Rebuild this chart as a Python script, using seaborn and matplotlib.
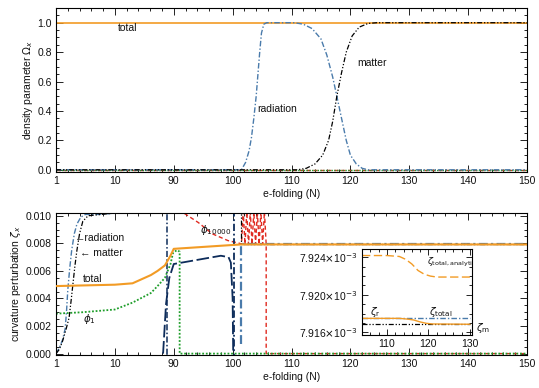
import numpy as np
import matplotlib
matplotlib.use('Agg')
import matplotlib.pyplot as plt
import seaborn as sns
from matplotlib.ticker import FixedLocator, FixedFormatter, MultipleLocator, FormatStrFormatter

sns.set_style('ticks')
plt.rcParams['font.family'] = ['Liberation Sans', 'DejaVu Sans']
plt.rcParams['mathtext.fontset'] = 'dejavusans'

# ---------------- data ----------------
x_ticks = [1, 10, 90, 100, 110, 120, 130, 140, 150]
x_ticklabels = ['1', '10', '90', '100', '110', '120', '130', '140', '150']

# top panel: density parameters
N_tot_top = [1, 150]
om_total = [1.0, 1.0]
N_rad_top = [1, 101.5, 102.2, 102.8, 103.2, 103.6, 104.0, 104.3, 104.6, 104.9, 105.3, 105.8,
             110.5, 112, 113.5, 115, 116, 117, 117.7, 118.5, 119.3, 120, 121, 122, 123, 150]
om_rad = [0, 0, 0.05, 0.13, 0.22, 0.35, 0.50, 0.65, 0.80, 0.93, 0.99, 1.0,
          1.0, 0.99, 0.96, 0.89, 0.78, 0.63, 0.50, 0.35, 0.20, 0.10, 0.04, 0.01, 0.0, 0.0]
N_mat_top = [1, 111, 112.5, 114, 115.3, 116.3, 117, 117.7, 118.5, 119.3, 120.3, 121.5, 123, 124.5, 150]
om_mat = [0, 0, 0.01, 0.04, 0.10, 0.20, 0.33, 0.50, 0.66, 0.80, 0.91, 0.97, 0.995, 1.0, 1.0]
N_fld_top = [1, 150]
om_fld = [0.0, 0.0]

# bottom panel: curvature perturbations
N_zr_early = [1, 1.5, 2.0, 2.4, 2.6, 2.8, 3.1, 3.4, 3.8, 4.2, 4.8, 5.5, 8, 10, 20]
zr_early = [0, 0.0004, 0.0010, 0.0018, 0.0030, 0.0046, 0.0062, 0.0075, 0.0087, 0.0094,
            0.0099, 0.0101, 0.0101, 0.0102, 0.0106]
N_zr_late = [101.5, 101.5, 150]
zr_late = [0.0007, 0.0079175, 0.0079175]

N_zm_early = [1, 1.5, 2.0, 2.5, 3.0, 3.3, 3.6, 3.9, 4.2, 4.6, 5.1, 5.9, 8, 10, 20]
zm_early = [0, 0.0003, 0.0009, 0.0017, 0.0026, 0.0038, 0.0051, 0.0064, 0.0075, 0.0087,
            0.0096, 0.0100, 0.0101, 0.0102, 0.0106]
N_zm_late = [101.4, 101.4, 150]
zm_late = [0.0106, 0.0079168, 0.0079168]

N_ztot = [1, 10, 34, 59, 68, 78, 85.5, 90, 100, 101.5, 150]
ztot = [0.0049, 0.0050, 0.0051, 0.0057, 0.0060, 0.0064, 0.0071, 0.0076, 0.00788, 0.00792, 0.0079175]

N_phi1 = [1, 5, 10, 34, 59, 68, 78, 85.6, 89, 90.5, 91, 91, 150]
phi1 = [0.0029, 0.0030, 0.0032, 0.0037, 0.0044, 0.0049, 0.0055, 0.0065, 0.0073, 0.0075, 0.0074, 0.0, 0.0]

N_phi10000 = [90.5, 91.7, 94.2, 96.5, 99.2, 101.2, 101.5, 101.8, 102.1, 102.4, 102.7, 103.0,
              103.3, 103.6, 103.9, 104.2, 104.5, 104.8, 105.1, 105.4, 105.7, 105.7, 150]
phi10000 = [0.0110, 0.0102, 0.0095, 0.0087, 0.0082, 0.0080, 0.00792, 0.0103, 0.00792, 0.0103,
            0.00792, 0.0103, 0.00792, 0.0103, 0.00792, 0.0103, 0.00792, 0.0103, 0.00792, 0.0103,
            0.00792, 0.0, 0.0]

N_zphi = [75.5, 79.5, 84, 90, 94, 98, 99.3, 99.7, 100, 100.1]
zphi = [0.0, 0.0036, 0.0055, 0.0065, 0.0068, 0.0071, 0.0070, 0.0066, 0.0040, 0.0]

N_div1 = [81, 81]
div1 = [0.0110, -0.0005]
N_div2 = [100.2, 100.2]
div2 = [-0.0005, 0.0110]

# inset
N_in = [104, 110, 113, 114.5, 116, 117.5, 119, 120.5, 122, 130]
in_analytic = [7.9242e-3, 7.9242e-3, 7.9241e-3, 7.9238e-3, 7.9233e-3, 7.9226e-3, 7.9222e-3,
               7.9220e-3, 7.9219e-3, 7.9219e-3]
N_in_tot = [104, 113, 115, 116.5, 118, 119.5, 121, 130]
in_total = [7.91748e-3, 7.91748e-3, 7.9174e-3, 7.9173e-3, 7.9171e-3, 7.91695e-3, 7.91688e-3, 7.91685e-3]
N_in_flat = [104, 130]
in_zr = [7.91749e-3, 7.91749e-3]
in_zm = [7.91685e-3, 7.91685e-3]

# ---------------- styles ----------------
ORANGE = '#f29b25'
STEEL = '#4a7bab'
NAVY = '#0d2c5a'
RED = '#e02a20'
GREEN = '#1e9e2a'
DASHDOT = (0, (4, 1.5, 1, 1.5))
DASHDOT3 = (0, (4, 1.5, 1, 1.5, 1, 1.5))
LONGDASH = (0, (7, 2))
DOT = (0, (1, 1))
DASH = (0, (3, 2))

def line(ax, x, y, color, ls='-', lw=1.0, z=2):
    sns.lineplot(x=np.asarray(x, float), y=np.asarray(y, float), ax=ax, color=color,
                 linestyle=ls, linewidth=lw, estimator=None, sort=False, legend=False, zorder=z)

knots = np.array(x_ticks, float)
pos = np.arange(len(knots), dtype=float)
def fwd(v):
    return np.interp(np.asarray(v, float), knots, pos)
def inv(u):
    return np.interp(np.asarray(u, float), pos, knots)

W, H = 539, 388
fig = plt.figure(figsize=(W / 100, H / 100), dpi=100)
ax1 = fig.add_axes([56 / W, 1 - 172 / H, (527 - 56) / W, (172 - 8) / H])
ax2 = fig.add_axes([56 / W, 1 - 355 / H, (527 - 56) / W, (355 - 213) / H])

FS = 7.5
TXT = '#111111'

# ---- top ----
line(ax1, N_fld_top, om_fld, RED, DASH, 1.0)
line(ax1, N_fld_top, om_fld, GREEN, DOT, 1.0)
line(ax1, N_rad_top, om_rad, STEEL, DASHDOT, 1.0)
line(ax1, N_mat_top, om_mat, 'black', DASHDOT3, 0.9)
line(ax1, N_tot_top, om_total, ORANGE, '-', 1.2, z=1)
ax1.text(27, 0.995, 'total', fontsize=FS, ha='center', va='top', color=TXT)
ax1.text(107.5, 0.41, 'radiation', fontsize=FS, ha='center', va='center', color=TXT)
ax1.text(123.7, 0.725, 'matter', fontsize=FS, ha='center', va='center', color=TXT)
ax1.set_ylim(-0.015, 1.1)
ax1.set_ylabel(r'density parameter $\Omega_x$', fontsize=FS, labelpad=2, color=TXT)
ax1.yaxis.set_major_locator(MultipleLocator(0.2))
ax1.yaxis.set_minor_locator(MultipleLocator(0.05))
ax1.yaxis.set_major_formatter(FormatStrFormatter('%.1f'))

# ---- bottom ----
line(ax2, N_phi10000, phi10000, RED, DASH, 1.0)
line(ax2, N_phi1, phi1, GREEN, DOT, 1.3)
line(ax2, N_zphi, zphi, NAVY, LONGDASH, 1.3)
line(ax2, N_div1, div1, NAVY, DASHDOT, 1.1)
line(ax2, N_div2, div2, NAVY, DASHDOT, 1.3)
line(ax2, N_zr_early, zr_early, STEEL, DASHDOT, 1.0)
line(ax2, N_zr_late, zr_late, STEEL, DASHDOT, 1.6)
line(ax2, N_zm_early, zm_early, 'black', DASHDOT3, 0.9)
line(ax2, N_zm_late, zm_late, 'black', DASHDOT3, 0.9)
line(ax2, N_ztot, ztot, ORANGE, '-', 1.5, z=3)
ax2.text(3.9, 0.00838, '\u2190radiation', fontsize=FS, ha='left', va='center', color=TXT)
ax2.text(4.7, 0.00728, '\u2190 matter', fontsize=FS, ha='left', va='center', color=TXT)
ax2.text(5.1, 0.0054, 'total', fontsize=FS, ha='left', va='center', color=TXT)
ax2.text(5.1, 0.0025, r'$\phi_1$', fontsize=FS, ha='left', va='center', color=TXT)
ax2.text(94.5, 0.0090, r'$\phi_{10000}$', fontsize=FS, ha='left', va='center', color=TXT)
ax2.set_ylim(-0.0001, 0.0102)
ax2.set_ylabel(r'curvature perturbation $\zeta_x$', fontsize=FS, labelpad=2, color=TXT)
ax2.yaxis.set_major_locator(MultipleLocator(0.002))
ax2.yaxis.set_minor_locator(MultipleLocator(0.0005))
ax2.yaxis.set_major_formatter(FormatStrFormatter('%.3f'))

minor_N = inv(np.arange(0, 8.001, 0.2))
for ax in (ax1, ax2):
    ax.set_xscale('function', functions=(fwd, inv))
    ax.set_xlim(1, 150)
    ax.xaxis.set_major_locator(FixedLocator(x_ticks))
    ax.xaxis.set_major_formatter(FixedFormatter(x_ticklabels))
    ax.xaxis.set_minor_locator(FixedLocator(minor_N))
    ax.set_xlabel('e-folding (N)', fontsize=FS, labelpad=2, color=TXT)
    ax.tick_params(which='both', direction='in', top=True, right=True, labelsize=FS, width=0.6,
                   colors='black', labelcolor=TXT)
    ax.tick_params(which='major', length=5, pad=3)
    ax.tick_params(which='minor', length=2.5)
    for s in ax.spines.values():
        s.set_linewidth(0.8)
        s.set_color('black')

# ---- inset ----
axi = fig.add_axes([362 / W, 1 - 335 / H, 110 / W, 86 / H])
line(axi, N_in, in_analytic, ORANGE, (0, (6, 2.5)), 1.0)
line(axi, N_in_flat, in_zr, STEEL, DASHDOT, 1.0)
line(axi, N_in_flat, in_zm, 'black', DASHDOT3, 0.9)
line(axi, N_in_tot, in_total, ORANGE, '-', 1.0)
axi.set_xlim(104, 130.5)
axi.set_ylim(7.9157e-3, 7.9249e-3)
axi.xaxis.set_major_locator(FixedLocator([110, 120, 130]))
axi.yaxis.set_major_locator(FixedLocator([7.916e-3, 7.920e-3, 7.924e-3]))
axi.yaxis.set_major_formatter(FixedFormatter([r'7.916$\times$10$^{-3}$', r'7.920$\times$10$^{-3}$',
                                              r'7.924$\times$10$^{-3}$']))
axi.xaxis.set_minor_locator(MultipleLocator(2))
axi.yaxis.set_minor_locator(MultipleLocator(0.001e-3))
axi.tick_params(which='both', direction='in', top=True, right=True, labelsize=FS, width=0.6,
                colors='black', labelcolor=TXT)
axi.tick_params(which='major', length=4, pad=3)
axi.tick_params(which='minor', length=2)
axi.set_xlabel('')
axi.set_ylabel('')
for s in axi.spines.values():
    s.set_linewidth(0.8)
    s.set_color('black')
axi.text(106.0, 7.9182e-3, r'$\zeta_\mathrm{r}$', fontsize=FS, ha='left', va='center', color=TXT)
axi.text(120.1, 7.9182e-3, r'$\zeta_\mathrm{total}$', fontsize=FS, ha='left', va='center', color=TXT)
axi.text(119.6, 7.9235e-3, r'$\zeta_\mathrm{total,analytic}$', fontsize=6.6, ha='left', va='center',
         clip_on=True, color=TXT)
axi.text(131.5, 7.9164e-3, r'$\zeta_\mathrm{m}$', fontsize=FS, ha='left', va='center', clip_on=False,
         color=TXT)

fig.savefig('out.png', dpi=100)
